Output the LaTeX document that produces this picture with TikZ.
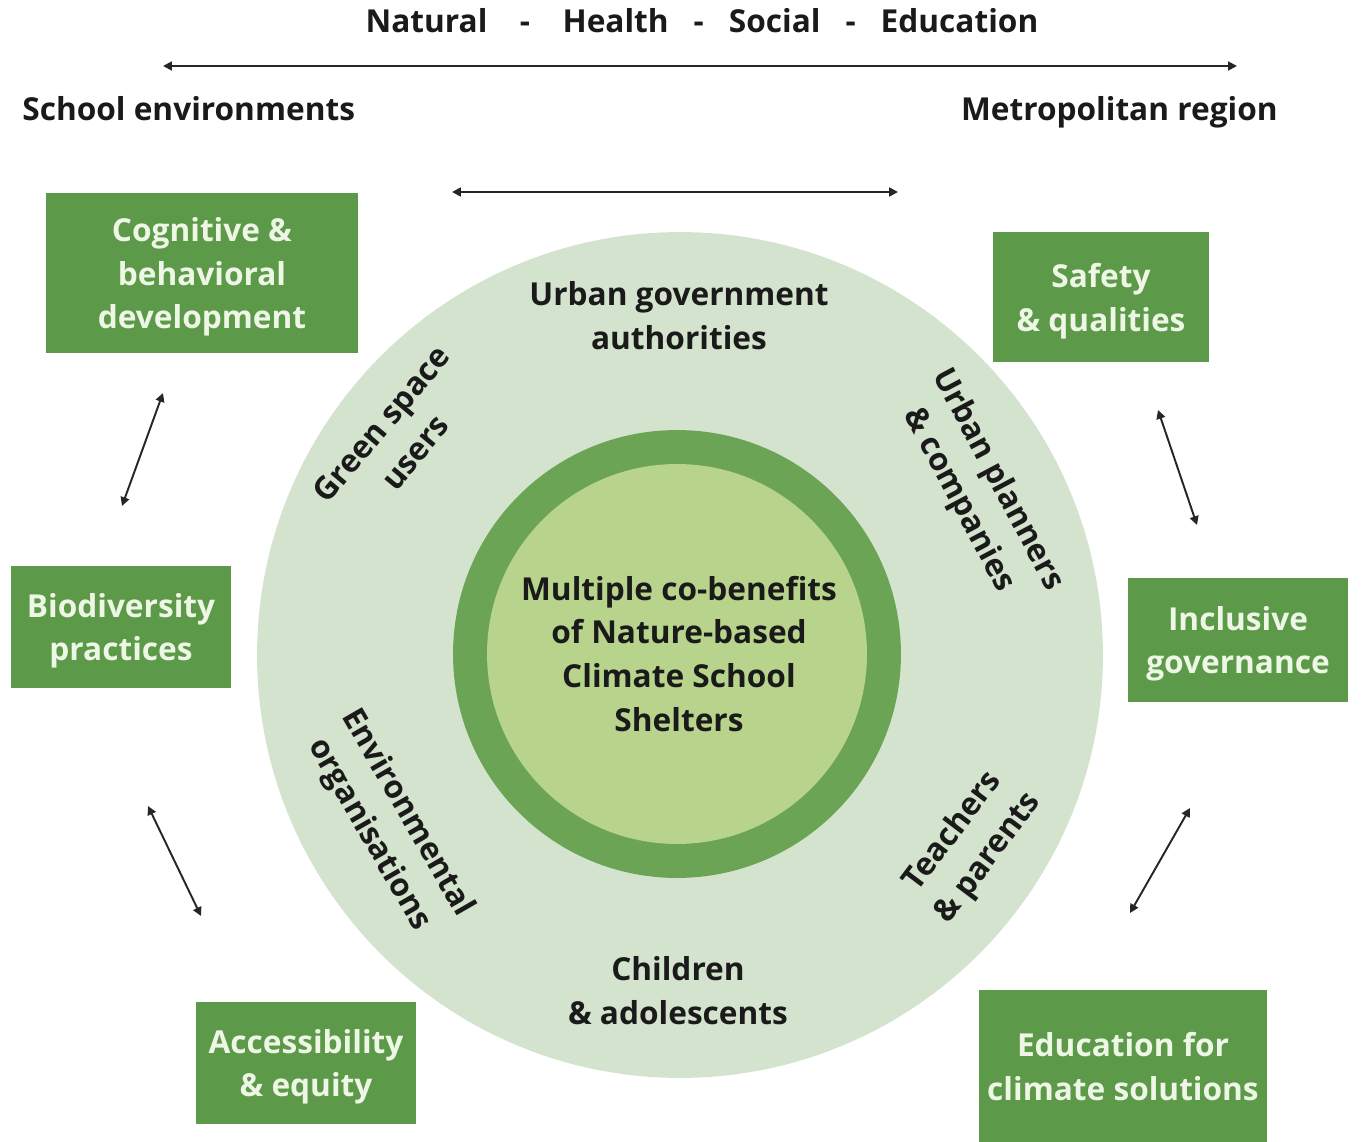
\documentclass[tikz,border=0pt]{standalone}
\usepackage{fontspec}
\setmainfont{Open Sans}
\usepackage{tikz}
\usetikzlibrary{
	arrows.meta,
	positioning
}
\usepackage{xcolor}
\definecolor{boxgreen}{HTML}{5C9A4A}
\definecolor{ringgreen}{HTML}{6CA455}
\definecolor{corelime}{HTML}{B8D48C}
\definecolor{outerpale}{HTML}{D4E3CD}
\definecolor{boxtext}{HTML}{EEF6E6}
\definecolor{inktext}{HTML}{1A1A1A}

\begin{document}
\begin{tikzpicture}[x=0.02cm,y=-0.02cm,
	benefit/.style={fill=boxgreen, text=boxtext, align=center, inner sep=0pt, text depth=0pt,
		font=\bfseries\fontsize{18}{25}\selectfont},
	actor/.style={text=inktext, align=center, inner sep=0pt,
		font=\bfseries\fontsize{18}{25}\selectfont},
	scale label/.style={text=inktext, inner sep=0pt,
		font=\bfseries\fontsize{18}{25}\selectfont},
	link/.style={{Triangle[length=5pt,width=5pt]}-{Triangle[length=5pt,width=5pt]}, line width=1.1pt, draw=black!85}]
	
	\useasboundingbox (0,0) rectangle (1363,1142);
	
	% Scale axis
	\node[scale label, anchor=base] (themes) at (702,33)
	{Natural\hspace{0.65cm}-\hspace{0.65cm}Health\hspace{0.5cm}-\hspace{0.5cm}Social\hspace{0.5cm}-\hspace{0.5cm}Education};
	\coordinate (axisL) at (163,66);
	\coordinate (axisR) at (1237,66);
	\draw[link] (axisL) -- (axisR);
	\node[scale label, anchor=base west] (school) at (22,121) {School environments};
	\node[scale label, anchor=base east] (metro) at (1278,121) {Metropolitan region};
	
	\coordinate (spanL) at (452,192);
	\coordinate (spanR) at (898,192);
	\draw[link, line width=1.3pt] (spanL) -- (spanR);
	
	% Stakeholder ring and core
	\fill[outerpale] (680,655) circle (8.46cm);
	\fill[ringgreen] (677,654) circle (4.48cm);
	\fill[corelime] (677,654) circle (3.8cm);
	
	\node[actor] (core) at (679,654)
	{Multiple co-benefits\\of Nature-based\\Climate School\\Shelters};
	
	\node[actor] (gov) at (679,316) {Urban government\\authorities};
	\node[actor, rotate=50] (users) at (398,438) {Green space\\users};
	\node[actor, rotate=-62] (planners) at (978,490) {Urban planners\\\& companies};
	\node[actor, rotate=-60] (envorg) at (388,824) {Environmental\\organisations};
	\node[actor, rotate=53] (teachers) at (971,845) {Teachers\\\& parents};
	\node[actor] (children) at (678,991) {Children\\\& adolescents};
	
	% Co-benefit boxes
	\node[benefit, minimum width=6.24cm, minimum height=3.2cm] (cog) at (202,273)
	{Cognitive \&\\behavioral\\development};
	\node[benefit, minimum width=4.32cm, minimum height=2.6cm] (safety) at (1101,297)
	{Safety\\\& qualities};
	\node[benefit, minimum width=4.4cm, minimum height=2.46cm] (bio) at (121,627)
	{Biodiversity\\practices};
	\node[benefit, minimum width=4.4cm, minimum height=2.48cm] (incl) at (1238,640)
	{Inclusive\\governance};
	\node[benefit, minimum width=4.4cm, minimum height=2.46cm] (access) at (306,1063)
	{Accessibility\\\& equity};
	\node[benefit, minimum width=5.78cm, minimum height=3.04cm] (edu) at (1123,1066)
	{Education for\\climate solutions};
	
	% Links between boxes
	\coordinate (l1a) at (163,393); \coordinate (l1b) at (122,506);
	\coordinate (l2a) at (1158,410); \coordinate (l2b) at (1197,525);
	\coordinate (l3a) at (148,806); \coordinate (l3b) at (201,916);
	\coordinate (l4a) at (1190,808); \coordinate (l4b) at (1130,913);
	\draw[link] (l1a) -- (l1b);
	\draw[link] (l2a) -- (l2b);
	\draw[link] (l3a) -- (l3b);
	\draw[link] (l4a) -- (l4b);
	
\end{tikzpicture}
\end{document}
